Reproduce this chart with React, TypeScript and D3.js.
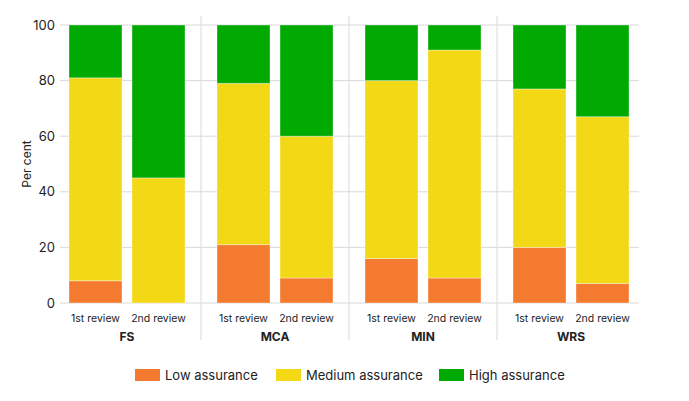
import { useEffect, useRef } from "react";
import * as d3 from "d3";

const groups = ["FS", "MCA", "MIN", "WRS"];
const reviews = ["1st review", "2nd review"];
const seriesNames = ["Low assurance", "Medium assurance", "High assurance"];
const seriesColors = ["#f47a30", "#f3d816", "#00aa00"];

// per group: [1st review, 2nd review]
const lowValues = [[8, 0], [21, 9], [16, 9], [20, 7]];
const mediumValues = [[73, 45], [58, 51], [64, 82], [57, 60]];
const highValues = [[19, 55], [21, 40], [20, 9], [23, 33]];
const yTicks = [0, 20, 40, 60, 80, 100];

export default function App() {
    const ref = useRef<SVGSVGElement | null>(null);

    useEffect(() => {
        if (!ref.current) return;
        const svg = d3.select(ref.current);
        svg.selectAll("*").remove();

        const font = "Inter, 'Noto Sans', sans-serif";

        const x0 = d3.scaleBand().domain(groups).range([53, 645]);
        const x1 = d3.scaleBand().domain(reviews).range([0, x0.bandwidth()]).paddingInner(0.159).paddingOuter(0.254);
        const y = d3.scaleLinear().domain([0, 100]).range([303, 25]);

        // grid
        svg.append("g")
            .selectAll("line")
            .data(yTicks)
            .enter()
            .append("line")
            .attr("x1", 60)
            .attr("x2", 639)
            .attr("y1", d => y(d))
            .attr("y2", d => y(d))
            .attr("stroke", "#d9d9d9")
            .attr("stroke-width", 1);

        // group separators
        svg.append("g")
            .selectAll("line")
            .data(groups.slice(1))
            .enter()
            .append("line")
            .attr("x1", d => x0(d)!)
            .attr("x2", d => x0(d)!)
            .attr("y1", 16)
            .attr("y2", 340)
            .attr("stroke", "#d9d9d9")
            .attr("stroke-width", 1);

        // y labels
        svg.append("g")
            .selectAll("text")
            .data(yTicks)
            .enter()
            .append("text")
            .attr("x", 55)
            .attr("y", d => y(d))
            .attr("dy", "0.35em")
            .attr("text-anchor", "end")
            .attr("font-family", font)
            .attr("font-size", 13)
            .attr("fill", "#222")
            .text(d => d);

        svg.append("text")
            .attr("transform", `translate(31,${y(50)}) rotate(-90)`)
            .attr("text-anchor", "middle")
            .attr("font-family", font)
            .attr("font-size", 12)
            .attr("fill", "#222")
            .text("Per cent");

        // stacked bars
        const rows: { group: string; review: string; vals: number[] }[] = [];
        groups.forEach((g, gi) => {
            reviews.forEach((r, ri) => {
                rows.push({ group: g, review: r, vals: [lowValues[gi][ri], mediumValues[gi][ri], highValues[gi][ri]] });
            });
        });

        rows.forEach(row => {
            let acc = 0;
            row.vals.forEach((v, si) => {
                const y0 = acc;
                acc += v;
                if (v <= 0) return;
                svg.append("rect")
                    .attr("x", x0(row.group)! + x1(row.review)!)
                    .attr("width", x1.bandwidth())
                    .attr("y", y(acc))
                    .attr("height", y(y0) - y(acc))
                    .attr("fill", seriesColors[si])
                    .attr("stroke", "rgba(255,255,255,0.35)")
                    .attr("stroke-width", 1);
            });
        });

        // review labels
        rows.forEach(row => {
            svg.append("text")
                .attr("x", x0(row.group)! + x1(row.review)! + x1.bandwidth() / 2)
                .attr("y", 322)
                .attr("text-anchor", "middle")
                .attr("font-family", font)
                .attr("font-size", 10.5)
                .attr("fill", "#222")
                .text(row.review);
        });

        // group labels
        svg.append("g")
            .selectAll("text")
            .data(groups)
            .enter()
            .append("text")
            .attr("x", d => x0(d)! + x0.bandwidth() / 2)
            .attr("y", 341)
            .attr("text-anchor", "middle")
            .attr("font-family", font)
            .attr("font-size", 12)
            .attr("font-weight", "bold")
            .attr("fill", "#222")
            .text(d => d);

        // legend
        const legendX = [135, 276, 439];
        const legend = svg.append("g");
        seriesNames.forEach((name, i) => {
            legend.append("rect")
                .attr("x", legendX[i])
                .attr("y", 369)
                .attr("width", 25)
                .attr("height", 12)
                .attr("fill", seriesColors[i]);
            legend.append("text")
                .attr("x", legendX[i] + 30)
                .attr("y", 375)
                .attr("dy", "0.35em")
                .attr("font-family", font)
                .attr("font-size", 13)
                .attr("fill", "#222")
                .text(name);
        });
    }, []);

    return (
        <div style={{ position: "absolute", left: 0, top: 0 }}>
            <svg ref={ref} width={689} height={401} style={{ display: "block", background: "#fff" }} />
        </div>
    );
}
